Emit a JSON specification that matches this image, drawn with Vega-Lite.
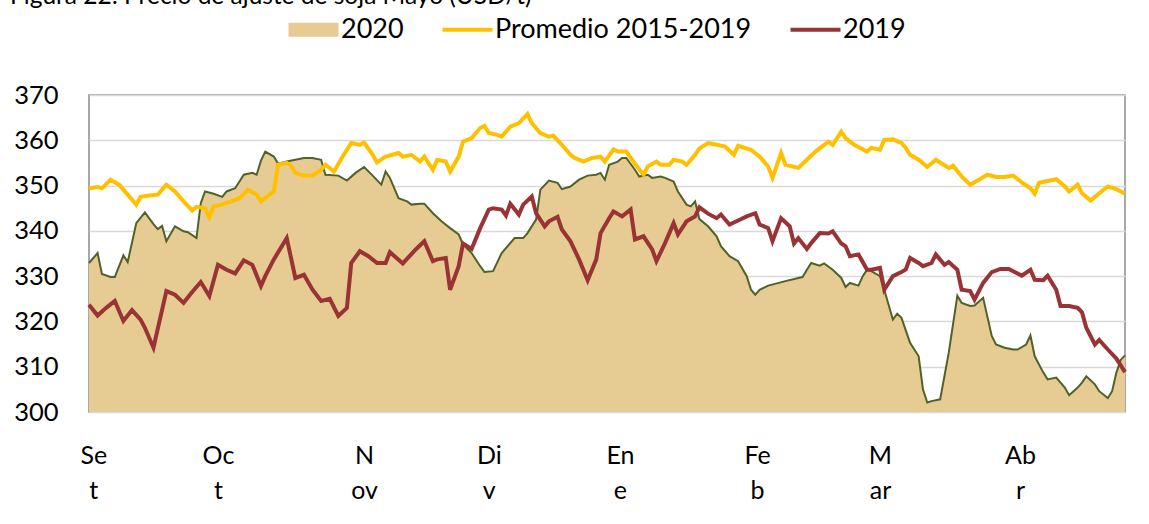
{
 "$schema": "https://vega.github.io/schema/vega-lite/v6.json",
 "width": 1036,
 "height": 317,
 "autosize": "none",
 "padding": {"left": 89, "top": 95, "right": 24, "bottom": 112},
 "background": "white",
 "title": {"text": "Figura 22: Precio de ajuste de soja Mayo (USD/t)", "anchor": "start", "frame": "group", "dx": -79, "dy": 29, "offset": 17, "font": "Lato", "fontSize": 24.5, "fontWeight": "normal", "color": "#000000", "baseline": "alphabetic"},
 "datasets": {
  "d2020": [
   {"fecha":"2019-09-02","valor":332.9},{"fecha":"2019-09-04","valor":335.1},{"fecha":"2019-09-05","valor":330.5},{"fecha":"2019-09-07","valor":329.8},{"fecha":"2019-09-08","valor":329.8},{"fecha":"2019-09-10","valor":334.6},{"fecha":"2019-09-11","valor":333.1},{"fecha":"2019-09-13","valor":341.7},{"fecha":"2019-09-15","valor":344.1},{"fecha":"2019-09-17","valor":341.5},{"fecha":"2019-09-18","valor":340.4},{"fecha":"2019-09-19","valor":341.1},{"fecha":"2019-09-20","valor":337.7},{"fecha":"2019-09-22","valor":341.0},{"fecha":"2019-09-24","valor":339.9},{"fecha":"2019-09-25","valor":339.7},{"fecha":"2019-09-27","valor":338.4},{"fecha":"2019-09-28","valor":346.1},{"fecha":"2019-09-29","valor":348.7},
   {"fecha":"2019-10-01","valor":348.2},{"fecha":"2019-10-03","valor":347.5},{"fecha":"2019-10-04","valor":348.7},{"fecha":"2019-10-06","valor":349.4},{"fecha":"2019-10-07","valor":350.9},{"fecha":"2019-10-08","valor":352.4},{"fecha":"2019-10-10","valor":352.8},{"fecha":"2019-10-11","valor":352.4},{"fecha":"2019-10-12","valor":355.5},{"fecha":"2019-10-13","valor":357.5},{"fecha":"2019-10-15","valor":356.4},{"fecha":"2019-10-16","valor":354.8},{"fecha":"2019-10-18","valor":355.3},{"fecha":"2019-10-20","valor":355.7},{"fecha":"2019-10-22","valor":356.1},{"fecha":"2019-10-24","valor":356.1},{"fecha":"2019-10-26","valor":355.7},{"fecha":"2019-10-27","valor":352.4},{"fecha":"2019-10-30","valor":352.2},
   {"fecha":"2019-11-01","valor":351.1},{"fecha":"2019-11-03","valor":352.8},{"fecha":"2019-11-05","valor":354.1},{"fecha":"2019-11-07","valor":352.2},{"fecha":"2019-11-09","valor":350.2},{"fecha":"2019-11-10","valor":353.1},{"fecha":"2019-11-11","valor":351.7},{"fecha":"2019-11-13","valor":347.2},{"fecha":"2019-11-15","valor":346.5},{"fecha":"2019-11-16","valor":345.8},{"fecha":"2019-11-18","valor":346.0},{"fecha":"2019-11-19","valor":346.0},{"fecha":"2019-11-21","valor":343.9},{"fecha":"2019-11-23","valor":342.1},{"fecha":"2019-11-25","valor":340.6},{"fecha":"2019-11-27","valor":339.2},{"fecha":"2019-11-28","valor":337.0},{"fecha":"2019-11-30","valor":335.1},
   {"fecha":"2019-12-02","valor":332.2},{"fecha":"2019-12-03","valor":330.9},{"fecha":"2019-12-05","valor":331.1},{"fecha":"2019-12-07","valor":335.1},{"fecha":"2019-12-09","valor":337.3},{"fecha":"2019-12-10","valor":338.4},{"fecha":"2019-12-12","valor":338.4},{"fecha":"2019-12-13","valor":339.5},{"fecha":"2019-12-15","valor":342.5},{"fecha":"2019-12-16","valor":349.1},{"fecha":"2019-12-18","valor":351.1},{"fecha":"2019-12-20","valor":350.6},{"fecha":"2019-12-21","valor":349.2},{"fecha":"2019-12-23","valor":349.8},{"fecha":"2019-12-25","valor":351.3},{"fecha":"2019-12-27","valor":352.2},{"fecha":"2019-12-29","valor":352.4},{"fecha":"2019-12-30","valor":352.8},{"fecha":"2019-12-31","valor":351.3},
   {"fecha":"2020-01-01","valor":354.6},{"fecha":"2020-01-03","valor":355.3},{"fecha":"2020-01-04","valor":356.1},{"fecha":"2020-01-05","valor":356.1},{"fecha":"2020-01-07","valor":353.5},{"fecha":"2020-01-08","valor":352.0},{"fecha":"2020-01-10","valor":352.4},{"fecha":"2020-01-11","valor":351.7},{"fecha":"2020-01-13","valor":352.0},{"fecha":"2020-01-14","valor":351.7},{"fecha":"2020-01-16","valor":350.9},{"fecha":"2020-01-17","valor":348.7},{"fecha":"2020-01-19","valor":345.8},{"fecha":"2020-01-20","valor":345.4},{"fecha":"2020-01-21","valor":346.5},{"fecha":"2020-01-22","valor":342.6},{"fecha":"2020-01-24","valor":341.0},{"fecha":"2020-01-26","valor":338.8},{"fecha":"2020-01-27","valor":336.6},{"fecha":"2020-01-29","valor":334.4},{"fecha":"2020-01-31","valor":333.3},
   {"fecha":"2020-02-02","valor":330.0},{"fecha":"2020-02-03","valor":327.0},{"fecha":"2020-02-04","valor":325.9},{"fecha":"2020-02-05","valor":327.0},{"fecha":"2020-02-07","valor":327.9},{"fecha":"2020-02-09","valor":328.4},{"fecha":"2020-02-11","valor":328.9},{"fecha":"2020-02-14","valor":329.6},{"fecha":"2020-02-15","valor":329.8},{"fecha":"2020-02-16","valor":331.4},{"fecha":"2020-02-17","valor":332.9},{"fecha":"2020-02-19","valor":332.3},{"fecha":"2020-02-20","valor":332.8},{"fecha":"2020-02-22","valor":331.4},{"fecha":"2020-02-24","valor":329.6},{"fecha":"2020-02-25","valor":327.6},{"fecha":"2020-02-26","valor":328.5},{"fecha":"2020-02-28","valor":327.9},{"fecha":"2020-02-29","valor":330.0},
   {"fecha":"2020-03-01","valor":331.4},{"fecha":"2020-03-02","valor":331.1},{"fecha":"2020-03-04","valor":330.0},{"fecha":"2020-03-05","valor":327.0},{"fecha":"2020-03-07","valor":320.4},{"fecha":"2020-03-08","valor":321.7},{"fecha":"2020-03-09","valor":320.8},{"fecha":"2020-03-11","valor":315.3},{"fecha":"2020-03-13","valor":312.3},{"fecha":"2020-03-14","valor":305.0},{"fecha":"2020-03-15","valor":302.1},{"fecha":"2020-03-16","valor":302.4},{"fecha":"2020-03-18","valor":302.8},{"fecha":"2020-03-20","valor":313.1},{"fecha":"2020-03-22","valor":325.7},{"fecha":"2020-03-23","valor":324.1},{"fecha":"2020-03-25","valor":323.4},{"fecha":"2020-03-26","valor":323.5},{"fecha":"2020-03-28","valor":325.2},{"fecha":"2020-03-30","valor":316.8},{"fecha":"2020-03-31","valor":314.9},
   {"fecha":"2020-04-02","valor":314.2},{"fecha":"2020-04-04","valor":313.8},{"fecha":"2020-04-05","valor":313.8},{"fecha":"2020-04-07","valor":314.9},{"fecha":"2020-04-08","valor":316.9},{"fecha":"2020-04-09","valor":312.3},{"fecha":"2020-04-11","valor":308.7},{"fecha":"2020-04-12","valor":307.2},{"fecha":"2020-04-14","valor":307.6},{"fecha":"2020-04-16","valor":305.4},{"fecha":"2020-04-17","valor":303.7},{"fecha":"2020-04-19","valor":305.4},{"fecha":"2020-04-20","valor":306.5},{"fecha":"2020-04-21","valor":307.9},{"fecha":"2020-04-23","valor":306.1},{"fecha":"2020-04-24","valor":304.6},{"fecha":"2020-04-26","valor":303.1},{"fecha":"2020-04-27","valor":304.6},{"fecha":"2020-04-28","valor":308.7},{"fecha":"2020-04-29","valor":311.5},{"fecha":"2020-04-30","valor":312.5}
  ],
  "prom": [
   {"fecha":"2019-09-02","valor":349.4},{"fecha":"2019-09-04","valor":349.7},{"fecha":"2019-09-05","valor":349.4},{"fecha":"2019-09-07","valor":351.3},{"fecha":"2019-09-09","valor":350.2},{"fecha":"2019-09-11","valor":348.0},{"fecha":"2019-09-13","valor":345.8},{"fecha":"2019-09-14","valor":347.5},{"fecha":"2019-09-16","valor":347.8},{"fecha":"2019-09-18","valor":348.0},{"fecha":"2019-09-20","valor":350.2},{"fecha":"2019-09-22","valor":348.7},{"fecha":"2019-09-24","valor":346.5},{"fecha":"2019-09-26","valor":344.5},{"fecha":"2019-09-27","valor":345.3},{"fecha":"2019-09-29","valor":345.0},{"fecha":"2019-09-30","valor":343.0},
   {"fecha":"2019-10-01","valor":345.4},{"fecha":"2019-10-03","valor":345.8},{"fecha":"2019-10-05","valor":346.5},{"fecha":"2019-10-07","valor":347.2},{"fecha":"2019-10-09","valor":349.1},{"fecha":"2019-10-11","valor":348.0},{"fecha":"2019-10-12","valor":346.5},{"fecha":"2019-10-14","valor":348.0},{"fecha":"2019-10-15","valor":348.7},{"fecha":"2019-10-16","valor":354.6},{"fecha":"2019-10-18","valor":355.0},{"fecha":"2019-10-19","valor":354.4},{"fecha":"2019-10-20","valor":352.8},{"fecha":"2019-10-22","valor":352.2},{"fecha":"2019-10-24","valor":352.2},{"fecha":"2019-10-26","valor":353.5},{"fecha":"2019-10-27","valor":354.6},{"fecha":"2019-10-29","valor":353.1},{"fecha":"2019-10-31","valor":356.4},
   {"fecha":"2019-11-02","valor":359.4},{"fecha":"2019-11-04","valor":359.0},{"fecha":"2019-11-05","valor":359.5},{"fecha":"2019-11-07","valor":356.8},{"fecha":"2019-11-08","valor":355.1},{"fecha":"2019-11-10","valor":356.4},{"fecha":"2019-11-13","valor":357.2},{"fecha":"2019-11-14","valor":356.4},{"fecha":"2019-11-16","valor":356.8},{"fecha":"2019-11-18","valor":355.3},{"fecha":"2019-11-19","valor":356.4},{"fecha":"2019-11-21","valor":353.5},{"fecha":"2019-11-22","valor":355.7},{"fecha":"2019-11-24","valor":355.3},{"fecha":"2019-11-25","valor":353.1},{"fecha":"2019-11-27","valor":356.4},{"fecha":"2019-11-28","valor":359.7},{"fecha":"2019-11-30","valor":360.5},
   {"fecha":"2019-12-02","valor":362.7},{"fecha":"2019-12-03","valor":363.2},{"fecha":"2019-12-04","valor":361.6},{"fecha":"2019-12-06","valor":361.2},{"fecha":"2019-12-07","valor":360.8},{"fecha":"2019-12-09","valor":363.0},{"fecha":"2019-12-11","valor":363.8},{"fecha":"2019-12-13","valor":365.8},{"fecha":"2019-12-14","valor":363.8},{"fecha":"2019-12-16","valor":361.6},{"fecha":"2019-12-18","valor":360.8},{"fecha":"2019-12-19","valor":361.0},{"fecha":"2019-12-21","valor":359.0},{"fecha":"2019-12-23","valor":356.8},{"fecha":"2019-12-24","valor":356.1},{"fecha":"2019-12-26","valor":355.3},{"fecha":"2019-12-28","valor":356.1},{"fecha":"2019-12-30","valor":356.4},{"fecha":"2019-12-31","valor":355.3},
   {"fecha":"2020-01-02","valor":358.0},{"fecha":"2020-01-03","valor":357.5},{"fecha":"2020-01-05","valor":357.5},{"fecha":"2020-01-07","valor":354.8},{"fecha":"2020-01-09","valor":352.4},{"fecha":"2020-01-10","valor":354.2},{"fecha":"2020-01-12","valor":355.3},{"fecha":"2020-01-13","valor":354.6},{"fecha":"2020-01-15","valor":354.6},{"fecha":"2020-01-16","valor":355.7},{"fecha":"2020-01-18","valor":355.3},{"fecha":"2020-01-19","valor":354.6},{"fecha":"2020-01-21","valor":356.8},{"fecha":"2020-01-22","valor":358.2},{"fecha":"2020-01-24","valor":359.4},{"fecha":"2020-01-26","valor":359.0},{"fecha":"2020-01-28","valor":358.6},{"fecha":"2020-01-30","valor":356.8},{"fecha":"2020-01-31","valor":358.8},
   {"fecha":"2020-02-03","valor":357.9},{"fecha":"2020-02-05","valor":356.4},{"fecha":"2020-02-07","valor":354.2},{"fecha":"2020-02-08","valor":351.7},{"fecha":"2020-02-10","valor":357.2},{"fecha":"2020-02-11","valor":354.6},{"fecha":"2020-02-14","valor":353.9},{"fecha":"2020-02-16","valor":355.7},{"fecha":"2020-02-18","valor":357.5},{"fecha":"2020-02-21","valor":359.7},{"fecha":"2020-02-22","valor":359.0},{"fecha":"2020-02-24","valor":361.9},{"fecha":"2020-02-25","valor":360.5},{"fecha":"2020-02-27","valor":359.0},
   {"fecha":"2020-03-01","valor":357.5},{"fecha":"2020-03-02","valor":358.3},{"fecha":"2020-03-04","valor":357.9},{"fecha":"2020-03-05","valor":360.1},{"fecha":"2020-03-07","valor":360.2},{"fecha":"2020-03-09","valor":359.4},{"fecha":"2020-03-10","valor":358.3},{"fecha":"2020-03-11","valor":356.8},{"fecha":"2020-03-13","valor":355.7},{"fecha":"2020-03-15","valor":354.1},{"fecha":"2020-03-17","valor":355.7},{"fecha":"2020-03-18","valor":355.1},{"fecha":"2020-03-20","valor":353.9},{"fecha":"2020-03-21","valor":354.4},{"fecha":"2020-03-23","valor":352.0},{"fecha":"2020-03-25","valor":350.2},{"fecha":"2020-03-27","valor":351.3},{"fecha":"2020-03-29","valor":352.4},{"fecha":"2020-03-31","valor":351.9},
   {"fecha":"2020-04-02","valor":351.9},{"fecha":"2020-04-04","valor":352.2},{"fecha":"2020-04-06","valor":350.7},{"fecha":"2020-04-08","valor":349.4},{"fecha":"2020-04-09","valor":348.2},{"fecha":"2020-04-10","valor":350.6},{"fecha":"2020-04-14","valor":351.4},{"fecha":"2020-04-16","valor":349.8},{"fecha":"2020-04-17","valor":348.7},{"fecha":"2020-04-19","valor":350.2},{"fecha":"2020-04-20","valor":348.3},{"fecha":"2020-04-22","valor":346.7},{"fecha":"2020-04-24","valor":348.3},{"fecha":"2020-04-26","valor":349.8},{"fecha":"2020-04-28","valor":349.2},{"fecha":"2020-04-30","valor":348.2}
  ],
  "d2019": [
   {"fecha":"2019-09-02","valor":323.7},{"fecha":"2019-09-04","valor":321.3},{"fecha":"2019-09-06","valor":323.0},{"fecha":"2019-09-08","valor":324.5},{"fecha":"2019-09-10","valor":320.1},{"fecha":"2019-09-12","valor":322.5},{"fecha":"2019-09-14","valor":320.4},{"fecha":"2019-09-15","valor":318.6},{"fecha":"2019-09-17","valor":314.2},{"fecha":"2019-09-20","valor":326.7},{"fecha":"2019-09-22","valor":325.9},{"fecha":"2019-09-24","valor":324.1},{"fecha":"2019-09-26","valor":326.5},{"fecha":"2019-09-28","valor":328.7},{"fecha":"2019-09-30","valor":325.6},
   {"fecha":"2019-10-02","valor":332.5},{"fecha":"2019-10-04","valor":331.4},{"fecha":"2019-10-06","valor":330.6},{"fecha":"2019-10-08","valor":333.5},{"fecha":"2019-10-10","valor":332.5},{"fecha":"2019-10-12","valor":327.8},{"fecha":"2019-10-13","valor":330.0},{"fecha":"2019-10-15","valor":333.7},{"fecha":"2019-10-18","valor":338.4},{"fecha":"2019-10-20","valor":329.6},{"fecha":"2019-10-22","valor":330.3},{"fecha":"2019-10-24","valor":327.0},{"fecha":"2019-10-26","valor":324.5},{"fecha":"2019-10-28","valor":325.0},{"fecha":"2019-10-30","valor":321.2},
   {"fecha":"2019-11-01","valor":323.0},{"fecha":"2019-11-02","valor":332.9},{"fecha":"2019-11-04","valor":335.5},{"fecha":"2019-11-06","valor":334.4},{"fecha":"2019-11-08","valor":332.9},{"fecha":"2019-11-10","valor":332.9},{"fecha":"2019-11-11","valor":335.3},{"fecha":"2019-11-14","valor":332.8},{"fecha":"2019-11-17","valor":335.9},{"fecha":"2019-11-19","valor":337.7},{"fecha":"2019-11-21","valor":333.3},{"fecha":"2019-11-22","valor":333.7},{"fecha":"2019-11-24","valor":334.0},{"fecha":"2019-11-25","valor":327.0},{"fecha":"2019-11-27","valor":332.2},{"fecha":"2019-11-28","valor":337.2},{"fecha":"2019-11-30","valor":336.0},
   {"fecha":"2019-12-02","valor":340.6},{"fecha":"2019-12-04","valor":344.7},{"fecha":"2019-12-05","valor":345.0},{"fecha":"2019-12-07","valor":344.7},{"fecha":"2019-12-08","valor":343.4},{"fecha":"2019-12-09","valor":346.0},{"fecha":"2019-12-11","valor":343.6},{"fecha":"2019-12-12","valor":345.8},{"fecha":"2019-12-14","valor":347.6},{"fecha":"2019-12-15","valor":343.9},{"fecha":"2019-12-17","valor":341.0},{"fecha":"2019-12-18","valor":342.1},{"fecha":"2019-12-20","valor":343.1},{"fecha":"2019-12-21","valor":340.3},{"fecha":"2019-12-23","valor":337.7},{"fecha":"2019-12-25","valor":333.7},{"fecha":"2019-12-27","valor":329.1},{"fecha":"2019-12-29","valor":333.7},{"fecha":"2019-12-30","valor":339.5},
   {"fecha":"2020-01-01","valor":342.8},{"fecha":"2020-01-02","valor":344.3},{"fecha":"2020-01-04","valor":343.2},{"fecha":"2020-01-06","valor":344.7},{"fecha":"2020-01-07","valor":338.1},{"fecha":"2020-01-09","valor":338.8},{"fecha":"2020-01-11","valor":335.9},{"fecha":"2020-01-12","valor":333.3},{"fecha":"2020-01-14","valor":337.3},{"fecha":"2020-01-16","valor":341.7},{"fecha":"2020-01-17","valor":339.2},{"fecha":"2020-01-19","valor":342.1},{"fecha":"2020-01-21","valor":343.2},{"fecha":"2020-01-22","valor":345.2},{"fecha":"2020-01-24","valor":343.8},{"fecha":"2020-01-26","valor":342.8},{"fecha":"2020-01-27","valor":343.6},{"fecha":"2020-01-29","valor":341.4},{"fecha":"2020-01-31","valor":342.3},
   {"fecha":"2020-02-02","valor":343.2},{"fecha":"2020-02-04","valor":343.9},{"fecha":"2020-02-05","valor":341.4},{"fecha":"2020-02-07","valor":340.6},{"fecha":"2020-02-08","valor":337.7},{"fecha":"2020-02-10","valor":342.8},{"fecha":"2020-02-12","valor":341.0},{"fecha":"2020-02-13","valor":337.2},{"fecha":"2020-02-14","valor":338.4},{"fecha":"2020-02-16","valor":336.0},{"fecha":"2020-02-17","valor":337.3},{"fecha":"2020-02-19","valor":339.5},{"fecha":"2020-02-21","valor":339.4},{"fecha":"2020-02-22","valor":339.9},{"fecha":"2020-02-24","valor":337.2},{"fecha":"2020-02-25","valor":336.6},{"fecha":"2020-02-26","valor":334.4},{"fecha":"2020-02-28","valor":334.8},
   {"fecha":"2020-03-01","valor":331.4},{"fecha":"2020-03-02","valor":331.4},{"fecha":"2020-03-04","valor":331.8},{"fecha":"2020-03-05","valor":327.0},{"fecha":"2020-03-07","valor":330.0},{"fecha":"2020-03-09","valor":330.9},{"fecha":"2020-03-10","valor":331.5},{"fecha":"2020-03-11","valor":334.0},{"fecha":"2020-03-13","valor":332.9},{"fecha":"2020-03-14","valor":332.2},{"fecha":"2020-03-16","valor":332.9},{"fecha":"2020-03-17","valor":334.8},{"fecha":"2020-03-19","valor":332.5},{"fecha":"2020-03-20","valor":333.1},{"fecha":"2020-03-22","valor":331.4},{"fecha":"2020-03-23","valor":327.0},{"fecha":"2020-03-25","valor":326.7},{"fecha":"2020-03-26","valor":324.8},{"fecha":"2020-03-28","valor":328.5},{"fecha":"2020-03-30","valor":330.9},
   {"fecha":"2020-04-01","valor":331.6},{"fecha":"2020-04-03","valor":331.6},{"fecha":"2020-04-05","valor":330.6},{"fecha":"2020-04-06","valor":330.1},{"fecha":"2020-04-08","valor":331.4},{"fecha":"2020-04-09","valor":329.2},{"fecha":"2020-04-11","valor":329.1},{"fecha":"2020-04-12","valor":330.1},{"fecha":"2020-04-14","valor":327.0},{"fecha":"2020-04-15","valor":323.4},{"fecha":"2020-04-17","valor":323.4},{"fecha":"2020-04-19","valor":323.0},{"fecha":"2020-04-20","valor":322.0},{"fecha":"2020-04-21","valor":318.6},{"fecha":"2020-04-23","valor":314.9},{"fecha":"2020-04-24","valor":315.9},{"fecha":"2020-04-26","valor":313.8},{"fecha":"2020-04-28","valor":311.8},{"fecha":"2020-04-30","valor":308.8}
  ]
 },
 "encoding": {
  "x": {
   "field": "fecha", "type": "temporal",
   "scale": {"type": "utc", "domain": [{"year": 2019, "month": 9, "date": 2, "utc": true}, {"year": 2020, "month": 4, "date": 30, "utc": true}]},
   "axis": {
    "title": null, "grid": false, "domain": false, "ticks": false, "tickSize": 0,
    "values": [
     {"year": 2019, "month": 9, "date": 3, "utc": true},
     {"year": 2019, "month": 10, "date": 2, "utc": true},
     {"year": 2019, "month": 11, "date": 5, "utc": true},
     {"year": 2019, "month": 12, "date": 4, "utc": true},
     {"year": 2020, "month": 1, "date": 3, "hours": 12, "utc": true},
     {"year": 2020, "month": 2, "date": 4, "hours": 10, "utc": true},
     {"year": 2020, "month": 3, "date": 4, "utc": true},
     {"year": 2020, "month": 4, "date": 5, "hours": 14, "utc": true}
    ],
    "labelExpr": "[['Se','t'],['Oc','t'],['N','ov'],['Di','v'],['En','e'],['Fe','b'],['M','ar'],['Ab','r']][(utcmonth(datum.value) + 4) % 12]",
    "labelFont": "Lato", "labelFontSize": 25, "labelColor": "#000000",
    "labelAlign": "center", "labelBaseline": "top", "labelPadding": 31, "labelLineHeight": 35,
    "labelOverlap": false, "labelFlush": false, "labelBound": false
   }
  },
  "y": {
   "field": "valor", "type": "quantitative",
   "scale": {"domain": [300, 370], "nice": false, "zero": false},
   "axis": {
    "title": null, "domain": false, "ticks": false, "tickSize": 0,
    "values": [300, 310, 320, 330, 340, 350, 360, 370],
    "labelFont": "Lato", "labelFontSize": 25.5, "labelColor": "#000000", "labelPadding": 31,
    "gridColor": "#d9d9d9", "gridWidth": 1.5
   }
  }
 },
 "layer": [
  {"data": {"name": "d2020"}, "mark": {"type": "area", "color": "#e6cc93", "opacity": 1}, "encoding": {"y2": {"datum": 300}}},
  {"data": {"name": "d2020"}, "mark": {"type": "line", "color": "#4f6228", "strokeWidth": 2}},
  {"data": {"name": "prom"}, "mark": {"type": "line", "strokeWidth": 4},
   "encoding": {"color": {"datum": "Promedio 2015-2019", "type": "nominal",
    "scale": {"domain": ["2020", "Promedio 2015-2019", "2019"], "range": ["#e6cc93", "#ffc000", "#993336"]},
    "legend": {
     "title": null, "orient": "none", "legendX": 211, "legendY": -79, "direction": "horizontal",
     "labelFont": "Lato", "labelFontSize": 27, "labelColor": "#000000", "labelLimit": 400,
     "symbolType": "stroke", "symbolSize": 2500, "symbolStrokeWidth": 4, "labelOffset": 14, "columnPadding": 30,
     "encode": {"symbols": {"update": {
      "shape": {"signal": "datum.value === '2020' ? 'M-0.97,-0.25H0.97V0.25H-0.97Z' : 'stroke'"},
      "fill": {"signal": "datum.value === '2020' ? '#e6cc93' : 'transparent'"},
      "stroke": {"signal": "datum.value === '2020' ? '#8a8470' : (datum.value === '2019' ? '#993336' : '#ffc000')"},
      "strokeWidth": {"signal": "datum.value === '2020' ? 1.5 : 4"},
      "opacity": {"value": 1}
     }}}
    }}}},
  {"data": {"name": "d2019"}, "mark": {"type": "line", "strokeWidth": 4},
   "encoding": {"color": {"datum": "2019", "type": "nominal"}}}
 ],
 "config": {"view": {"stroke": "#8c8c8c", "strokeWidth": 1.5}, "font": "Lato"}
}
